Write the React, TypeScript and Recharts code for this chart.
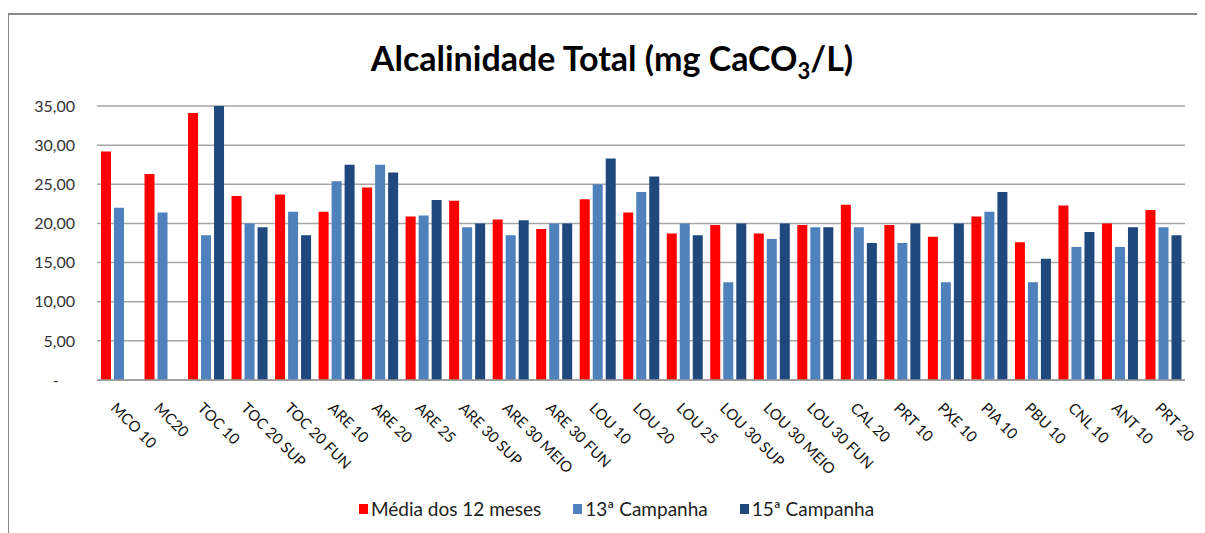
import React from "react";
import { Bar, BarChart, CartesianGrid, Legend, XAxis, YAxis } from "recharts";

const categories = [
  "MCO 10", "MC20", "TOC 10", "TOC 20 SUP", "TOC 20 FUN", "ARE 10", "ARE 20", "ARE 25",
  "ARE 30 SUP", "ARE 30 MEIO", "ARE 30 FUN", "LOU 10", "LOU 20", "LOU 25", "LOU 30 SUP",
  "LOU 30 MEIO", "LOU 30 FUN", "CAL  20", "PRT 10", "PXE 10", "PIA 10", "PBU 10", "CNL 10",
  "ANT 10", "PRT 20",
];

const media12 = [
  29.2, 26.3, 34.1, 23.5, 23.7, 21.5, 24.6, 20.9, 22.9, 20.5, 19.3, 23.1, 21.4, 18.7, 19.8,
  18.7, 19.8, 22.4, 19.8, 18.3, 20.9, 17.6, 22.3, 20.0, 21.7,
];
const campanha13 = [
  22.0, 21.4, 18.5, 20.0, 21.5, 25.4, 27.5, 21.0, 19.5, 18.5, 20.0, 25.0, 24.0, 20.0, 12.5,
  18.0, 19.5, 19.5, 17.5, 12.5, 21.5, 12.5, 17.0, 17.0, 19.5,
];
const campanha15 = [
  null, null, 35.0, 19.5, 18.5, 27.5, 26.5, 23.0, 20.0, 20.4, 20.0, 28.3, 26.0, 18.5, 20.0,
  20.0, 19.5, 17.5, 20.0, 20.0, 24.0, 15.5, 18.9, 19.5, 18.5,
];

const yTicks = [0, 5, 10, 15, 20, 25, 30, 35];

const data = categories.map((name, i) => ({
  name,
  media: media12[i],
  c13: campanha13[i],
  c15: campanha15[i],
}));

const font = "Lato, 'Open Sans', sans-serif";

const fmt = (v: number) => (v === 0 ? "-\u00a0\u00a0\u00a0\u00a0" : v.toFixed(2).replace(".", ","));

const XTick = (props: any) => {
  const { x, y, payload } = props;
  return (
    <g transform={`translate(${x - 9},${y + 21}) rotate(45)`}>
      <text x={0} y={0} textAnchor="start" fill="#111" fontSize={15} fontFamily={font}>
        {payload.value}
      </text>
    </g>
  );
};

const LegendContent = (props: any) => {
  const { payload } = props;
  const order = ["media", "c13", "c15"];
  const items = [...(payload || [])].sort(
    (a: any, b: any) => order.indexOf(a.dataKey) - order.indexOf(b.dataKey)
  );
  return (
    <div
      style={{
        display: "flex",
        justifyContent: "center",
        gap: 32,
        paddingLeft: 40,
        marginTop: 4,
        fontFamily: font,
        fontSize: 19,
        color: "#222",
      }}
    >
      {items.map((it: any) => (
        <div key={it.dataKey} style={{ display: "flex", alignItems: "center" }}>
          <span style={{ display: "inline-block", width: 9, height: 10, background: it.color, marginRight: 3 }} />
          <span>{it.value}</span>
        </div>
      ))}
    </div>
  );
};

export default function App() {
  return (
    <div style={{ position: "relative", width: 1197, height: 525 }}>
      <div style={{ position: "absolute", left: -1, top: 5, width: 1198, height: 2, background: "#888" }} />
      <div style={{ position: "absolute", left: -1, top: 5, width: 2, height: 520, background: "#888" }} />
      <div
        style={{
          position: "absolute",
          left: 0,
          top: 30,
          width: 1208,
          textAlign: "center",
          fontFamily: font,
          fontWeight: 700,
          fontSize: 34,
          color: "#000",
          lineHeight: "40px",
        }}
      >
        Alcalinidade Total (mg CaCO<sub style={{ fontSize: 22 }}>3</sub>/L)
      </div>
      <BarChart
        width={1197}
        height={525}
        data={data}
        margin={{ top: 98, right: 20, left: 0, bottom: 0 }}
        barSize={10}
        barGap={3}
      >
        <CartesianGrid vertical={false} stroke="#a6a6a6" strokeWidth={1.5} />
        <XAxis
          dataKey="name"
          interval={0}
          height={113}
          tickLine={false}
          axisLine={{ stroke: "#999", strokeWidth: 1.5 }}
          tick={<XTick />}
        />
        <YAxis
          width={89}
          domain={[0, 35]}
          ticks={yTicks}
          tickFormatter={fmt}
          axisLine={false}
          tickLine={false}
          tickMargin={16}
          tick={{ fill: "#333", fontSize: 16, fontFamily: font }}
        />
        <Legend verticalAlign="bottom" height={40} content={<LegendContent />} />
        <Bar dataKey="media" name="Média dos 12 meses" fill="#ff0000" isAnimationActive={false} />
        <Bar dataKey="c13" name="13ª Campanha" fill="#4f81bd" isAnimationActive={false} />
        <Bar dataKey="c15" name="15ª Campanha" fill="#1f497d" isAnimationActive={false} />
      </BarChart>
    </div>
  );
}
